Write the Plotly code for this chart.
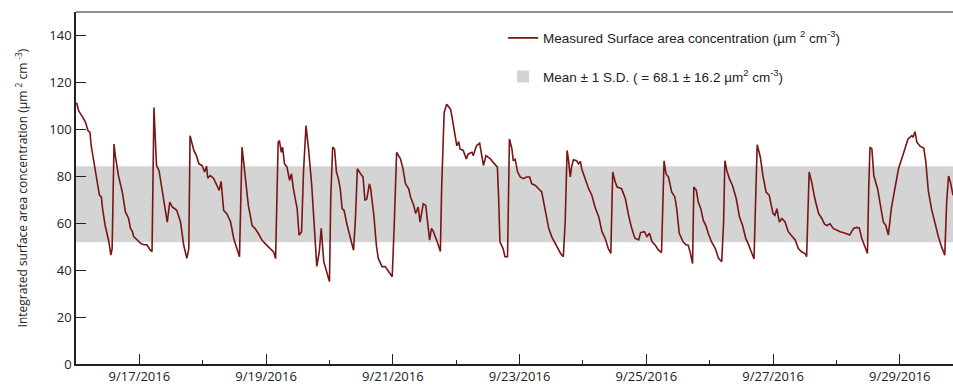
import numpy as np
import pandas as pd
import plotly.graph_objects as go

# Time as fractional day of September 2016
day_of_sept = [
    16.01, 16.04, 16.11, 16.15, 16.19, 16.22, 16.24, 16.26, 16.27, 16.29, 16.33, 16.37, 16.40, 16.42,
    16.46, 16.52, 16.55, 16.57, 16.60, 16.62, 16.67, 16.73, 16.78, 16.83, 16.86, 16.89, 16.91, 16.96,
    17.02, 17.07, 17.12, 17.17, 17.20, 17.23, 17.27, 17.31, 17.36, 17.44, 17.48, 17.52, 17.59, 17.65,
    17.70, 17.75, 17.78, 17.80, 17.86, 17.90,
    17.94, 17.99, 18.03, 18.06, 18.08, 18.12, 18.17, 18.23, 18.26, 18.29, 18.33, 18.38, 18.44, 18.49,
    18.54, 18.58, 18.62, 18.68, 18.72, 18.78, 18.83, 18.88, 18.94, 18.99, 19.04, 19.12, 19.15, 19.19,
    19.21, 19.24, 19.26, 19.29, 19.33, 19.37, 19.40, 19.43, 19.49, 19.52, 19.56, 19.59, 19.63, 19.67,
    19.72, 19.77, 19.80, 19.84, 19.87,
    19.91, 19.96, 20.00, 20.02, 20.05, 20.08, 20.11, 20.14, 20.17, 20.20, 20.23, 20.28, 20.33, 20.38,
    20.41, 20.44, 20.49, 20.53, 20.56, 20.59, 20.63, 20.65, 20.70, 20.74, 20.77, 20.83, 20.88, 20.93,
    20.99, 21.02, 21.06, 21.12, 21.16, 21.20, 21.25, 21.28, 21.33, 21.36, 21.40, 21.43, 21.48, 21.52,
    21.55, 21.58, 21.61, 21.64, 21.70, 21.75, 21.77, 21.81, 21.85, 21.91,
    21.93, 21.97, 22.01, 22.04, 22.06, 22.11, 22.16, 22.19, 22.25, 22.27, 22.32, 22.37, 22.40, 22.43,
    22.47, 22.54, 22.59, 22.65, 22.67, 22.69, 22.74, 22.77, 22.81, 22.84, 22.88, 22.90, 22.93, 22.97,
    23.01, 23.06, 23.11, 23.16, 23.19, 23.25, 23.30, 23.35, 23.40, 23.46, 23.51, 23.56, 23.61, 23.65,
    23.69, 23.72, 23.75,
    23.77, 23.80, 23.82, 23.85, 23.90, 23.93, 23.96, 23.98, 24.03, 24.09, 24.14, 24.19, 24.25, 24.30,
    24.35, 24.40, 24.44, 24.47, 24.51, 24.54, 24.61, 24.67, 24.72, 24.77, 24.82, 24.88, 24.91, 24.97,
    25.01, 25.05, 25.09, 25.14, 25.19, 25.24, 25.28, 25.31, 25.35, 25.40, 25.45, 25.48, 25.52, 25.58,
    25.63, 25.66, 25.69,
    25.73, 25.75, 25.79, 25.82, 25.86, 25.90, 25.94, 25.98, 26.03, 26.09, 26.14, 26.19, 26.22, 26.24,
    26.27, 26.31, 26.36, 26.42, 26.47, 26.52, 26.57, 26.61, 26.66, 26.70, 26.73, 26.75, 26.80, 26.84,
    26.89, 26.94, 27.00, 27.03, 27.06, 27.10, 27.14, 27.19, 27.24, 27.29, 27.35, 27.40, 27.45, 27.51,
    27.53,
    27.57, 27.61, 27.66, 27.72, 27.77, 27.81, 27.85, 27.90, 27.95, 28.00, 28.06, 28.14, 28.21, 28.27,
    28.32, 28.36, 28.40, 28.44, 28.49, 28.51, 28.53, 28.56, 28.59, 28.65, 28.70, 28.74, 28.78, 28.82,
    28.87, 28.92, 28.98, 29.03, 29.08, 29.13, 29.19, 29.21, 29.24, 29.27, 29.32, 29.38, 29.41, 29.45,
    29.50, 29.56, 29.61, 29.66, 29.71, 29.74, 29.77, 29.80, 29.84,
]

surface_area = [
    111.4, 108.0, 105.0, 103.0, 99.4, 98.7, 93.0, 90.0, 88.0, 84.6, 79.0, 71.9, 71.2, 66.0,
    59.0, 52.0, 46.4, 49.0, 93.7, 88.8, 80.3, 73.3, 64.8, 62.0, 57.8, 56.4, 54.3, 52.9,
    51.4, 50.8, 50.8, 48.6, 47.9, 109.3, 84.6, 82.5, 74.7, 60.5, 69.0, 66.9, 65.5, 60.5,
    50.6, 45.0, 49.2, 97.3, 91.0, 88.8,
    85.3, 84.6, 81.8, 84.3, 79.2, 80.3, 79.2, 76.1, 74.0, 77.8, 65.5, 64.1, 60.5, 53.4,
    49.2, 45.7, 92.4, 76.1, 67.6, 59.0, 57.6, 55.5, 52.6, 51.2, 49.8, 47.7, 44.9, 94.5,
    95.2, 90.2, 92.4, 85.3, 83.9, 78.3, 81.1, 74.7, 66.2, 54.9, 56.4, 81.8, 101.6, 91.6,
    76.1, 56.4, 41.6, 47.9, 57.8,
    43.6, 38.6, 35.1, 70.4, 92.4, 91.6, 81.8, 79.0, 74.7, 66.2, 65.5, 59.0, 54.1, 48.5,
    62.0, 83.2, 81.1, 79.7, 69.7, 70.4, 76.8, 74.7, 63.4, 50.6, 45.0, 41.5, 41.5, 39.4,
    37.2, 57.8, 90.2, 87.4, 83.2, 76.8, 74.7, 71.2, 67.6, 64.1, 66.9, 60.5, 68.3, 67.6,
    60.5, 52.8, 57.8, 56.4, 52.1, 47.9, 74.7, 107.2, 110.7, 108.6,
    105.8, 100.1, 93.0, 94.8, 91.6, 91.0, 87.4, 89.5, 90.2, 88.8, 93.0, 94.1, 89.5, 84.6,
    88.8, 87.4, 85.7, 83.9, 70.4, 52.1, 49.2, 45.7, 45.7, 95.9, 91.6, 86.6, 87.3, 81.8,
    79.7, 79.0, 79.7, 79.7, 76.8, 76.1, 74.7, 73.3, 66.2, 57.8, 54.1, 51.5, 49.2, 47.0,
    45.7, 60.5, 91.0,
    87.4, 79.7, 83.9, 87.0, 86.6, 85.3, 86.3, 83.2, 79.0, 74.7, 71.9, 66.9, 62.7, 56.4,
    53.6, 49.2, 47.1, 81.8, 77.5, 75.4, 74.7, 70.4, 63.4, 57.8, 53.6, 52.9, 56.0, 56.4,
    54.3, 55.7, 52.1, 50.7, 48.6, 47.5, 86.6, 81.1, 79.7, 73.3, 71.2, 66.2, 55.7, 52.1,
    50.7, 50.7, 47.9,
    42.8, 75.4, 74.0, 69.0, 66.2, 61.2, 59.0, 55.5, 52.0, 49.2, 45.0, 43.6, 60.5, 86.6,
    82.5, 79.0, 76.1, 70.4, 62.7, 59.0, 53.4, 51.2, 47.1, 44.8, 74.7, 93.4, 88.1, 80.3,
    73.3, 71.9, 64.1, 63.4, 66.2, 60.5, 62.0, 60.5, 56.4, 55.0, 52.9, 49.2, 47.8, 47.0,
    45.7,
    81.8, 77.5, 70.4, 64.1, 62.0, 59.7, 59.0, 59.7, 57.8, 57.1, 56.4, 55.7, 55.0, 57.8,
    58.2, 58.0, 53.6, 50.7, 47.1, 74.7, 92.4, 91.6, 80.3, 74.7, 67.6, 60.5, 59.0, 55.0,
    66.9, 74.7, 83.2, 87.4, 91.6, 95.9, 97.3, 96.6, 99.0, 94.5, 92.8, 91.9, 86.3, 74.0,
    66.2, 59.0, 54.1, 49.9, 46.4, 69.0, 80.1, 77.4, 71.9,
]

mean_sa = 68.1
sd_sa = 16.2
x_start_day = 16.0
x_end_day = 29.84

base = pd.Timestamp("2016-09-01")
def to_time(d):
    return base + pd.to_timedelta(np.asarray(d, dtype=float) - 1.0, unit="D")

times = to_time(day_of_sept)
x0, x1 = to_time([x_start_day, x_end_day])

line_color = "#7a1515"
band_color = "#d4d4d4"
legend_font = dict(family="Liberation Sans, Arial, sans-serif", size=13.5, color="#222")

fig = go.Figure()

# the ±1 SD band (drawn underneath)
fig.add_trace(go.Scatter(
    x=[x0, x1, x1, x0, x0],
    y=[mean_sa - sd_sa, mean_sa - sd_sa, mean_sa + sd_sa, mean_sa + sd_sa, mean_sa - sd_sa],
    fill="toself", fillcolor=band_color, mode="none",
    line=dict(width=0), showlegend=False, hoverinfo="skip",
))

fig.add_trace(go.Scatter(
    x=times, y=surface_area, mode="lines",
    line=dict(color=line_color, width=1.6),
    name="Measured Surface area concentration (µm <sup>2</sup> cm<sup>-3</sup>)",
    legendgroup="a", legendrank=1,
))

# legend entry for the band (square swatch)
fig.add_trace(go.Scatter(
    x=[None], y=[None], mode="markers",
    marker=dict(symbol="square", size=12, color=band_color),
    name="Mean ± 1 S.D. ( = 68.1 ± 16.2 µm<sup>2</sup> cm<sup>-3</sup>)",
    legendgroup="b", legendrank=2,
))

fig.update_layout(
    width=953, height=385,
    margin=dict(l=76, r=0, t=12, b=19),
    paper_bgcolor="white", plot_bgcolor="white",
    showlegend=True,
    legend=dict(
        x=0.487, y=0.97, xanchor="left", yanchor="top",
        bgcolor="rgba(0,0,0,0)",
        font=legend_font,
        traceorder="grouped", tracegroupgap=18,
        itemwidth=30,
    ),
    xaxis=dict(
        type="date",
        range=[x0, x1],
        tick0="2016-09-17", dtick=2 * 86400000,
        tickformat="%-m/%-d/%Y",
        ticks="inside", ticklen=10, tickwidth=1.2, tickcolor="#222",
        showline=True, linecolor="#222", linewidth=1.5,
        showgrid=False, zeroline=False,
        tickfont=dict(family="Open Sans, sans-serif", size=13, color="#222"),
        minor=dict(dtick=86400000, tick0="2016-09-16", ticks="inside", ticklen=4,
                   tickwidth=1, tickcolor="#222", showgrid=False),
    ),
    yaxis=dict(
        range=[0, 150],
        tickvals=[0, 20, 40, 60, 80, 100, 120, 140],
        ticks="inside", ticklen=10, tickwidth=1.2, tickcolor="#222",
        showline=True, linecolor="#222", linewidth=1.5,
        showgrid=False, zeroline=False,
        tickfont=dict(family="Open Sans, sans-serif", size=13, color="#222"),
        title=dict(
            text="Integrated surface area concentration (µm <sup>2</sup> cm <sup>-3</sup>)",
            font=dict(family="Open Sans, sans-serif", size=12, color="#222"),
            standoff=19,
        ),
    ),
    shapes=[dict(type="line", xref="paper", yref="paper", x0=0, x1=1, y0=1, y1=1,
                 line=dict(color="#222", width=1.2))],
)

fig.write_html("out.html")
